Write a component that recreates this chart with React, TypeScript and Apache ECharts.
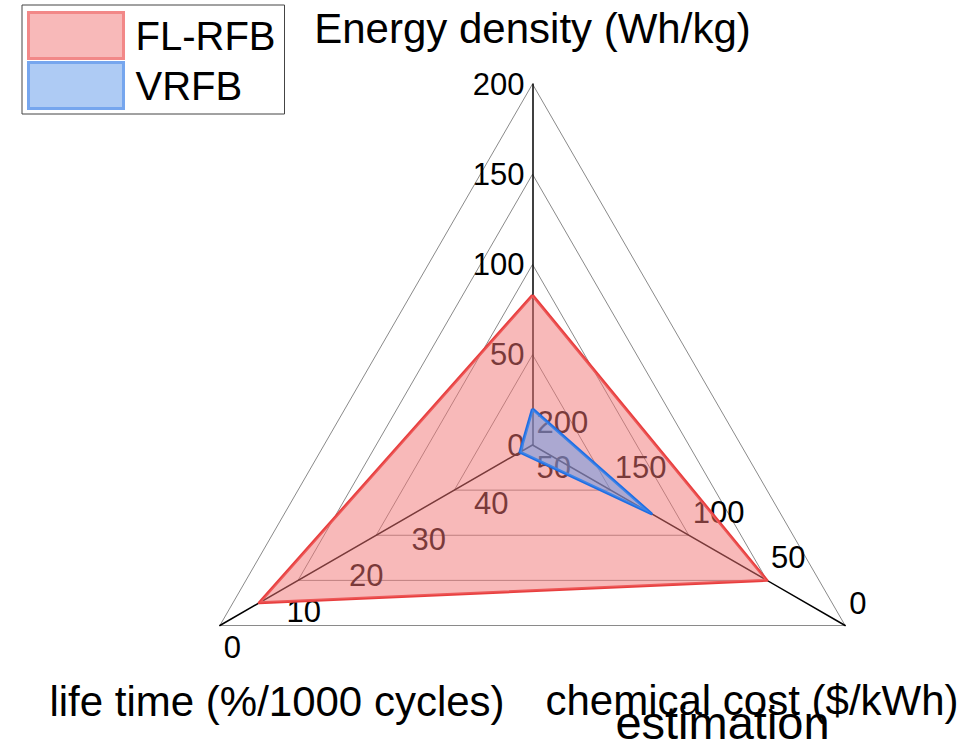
import React, { useEffect, useRef } from 'react';
import * as echarts from 'echarts';

// Axis titles (top, bottom-left, bottom-right)
const AXIS_NAMES = ['Energy density (Wh/kg)', 'life time (%/1000 cycles)', 'chemical cost ($/kWh)'];
const COST_NAME_NOTE = 'estimation';

// Axis ranges: energy grows outward, life time and cost grow toward the centre
const ENERGY_MAX = 200;
const LIFE_MAX = 50;
const COST_MAX = 200;

const SERIES_NAMES = ['FL-RFB', 'VRFB'];
const ENERGY = [83, 20]; // Wh/kg
const LIFE = [6.3, 48]; // %/1000 cycles
const COST = [50, 124]; // $/kWh

const FONT = '"Liberation Sans", Arial, Helvetica, sans-serif';
const LINE_COLORS = ['#e83e3e', '#1e6ee4'];
const FILL_COLORS = ['rgba(241,115,115,0.5)', 'rgba(93,151,233,0.5)'];
const LEGEND_FILL = ['#f8b9b9', '#aecbf4'];
const LEGEND_BORDER = ['#f28888', '#76a6ee'];

// Values as placed on the radar: reversed axes are measured from their outer end
const radarValues = (i: number) => [ENERGY[i], LIFE_MAX - LIFE[i], COST_MAX - COST[i]];

export default function App() {
  const ref = useRef<HTMLDivElement>(null);

  useEffect(() => {
    if (!ref.current) return;
    const chart = echarts.init(ref.current, undefined, { renderer: 'svg' });

    const common = {
      center: [532.5, 445],
      radius: 361,
      startAngle: 90,
      shape: 'polygon',
      splitArea: { show: false },
      axisName: { show: false },
    };
    const labelBase = { color: '#000', fontSize: 31, fontFamily: FONT, margin: 8 };
    const title = (text: string, x: number, y: number, size = 42) => ({
      type: 'text',
      x,
      y,
      style: { text, font: `${size}px ${FONT}`, fill: '#000', align: 'center', verticalAlign: 'middle' },
    });

    chart.setOption({
      animation: false,
      backgroundColor: '#fff',
      legend: {
        orient: 'vertical',
        left: 22,
        top: 5,
        padding: [6, 9, 4, 5],
        itemGap: 1,
        itemWidth: 95,
        itemHeight: 46,
        borderColor: '#444',
        borderWidth: 1,
        backgroundColor: '#fff',
        textStyle: { fontSize: 40, lineHeight: 46, color: '#000', fontFamily: FONT, padding: [0, 0, 0, 7] },
        data: SERIES_NAMES.map((n, i) => ({
          name: n,
          icon: 'rect',
          itemStyle: { color: LEGEND_FILL[i], borderColor: LEGEND_BORDER[i], borderWidth: 3 },
        })),
      },
      radar: [
        {
          ...common,
          splitNumber: 4,
          indicator: [
            { name: AXIS_NAMES[0], min: 0, max: ENERGY_MAX, axisLabel: { show: true } },
            { name: AXIS_NAMES[1], min: 0, max: LIFE_MAX, axisLabel: { show: false } },
            {
              name: AXIS_NAMES[2],
              min: 0,
              max: COST_MAX,
              axisLabel: { show: true, verticalAlign: 'bottom', formatter: (v: number) => String(COST_MAX - v) },
            },
          ],
          axisLine: { show: true, lineStyle: { color: '#000', width: 1.5 } },
          splitLine: { show: true, lineStyle: { color: '#8a8a8a', width: 1 } },
          axisLabel: { show: true, ...labelBase },
        },
        {
          ...common,
          splitNumber: 5,
          indicator: [
            { name: AXIS_NAMES[0], min: 0, max: ENERGY_MAX, axisLabel: { show: false } },
            {
              name: AXIS_NAMES[1],
              min: 0,
              max: LIFE_MAX,
              axisLabel: { show: true, verticalAlign: 'top', formatter: (v: number) => String(LIFE_MAX - v) },
            },
            { name: AXIS_NAMES[2], min: 0, max: COST_MAX, axisLabel: { show: false } },
          ],
          axisLine: { show: false },
          splitLine: { show: false },
          axisLabel: { show: true, ...labelBase },
        },
      ],
      series: [
        {
          type: 'radar',
          radarIndex: 0,
          symbol: 'none',
          data: SERIES_NAMES.map((n, i) => ({
            name: n,
            value: radarValues(i),
            lineStyle: { color: LINE_COLORS[i], width: 3 },
            areaStyle: { color: FILL_COLORS[i], opacity: 1 },
            itemStyle: { color: LINE_COLORS[i] },
          })),
        },
      ],
      graphic: [
        title(AXIS_NAMES[0], 532.5, 28),
        title(AXIS_NAMES[1], 277, 701.5),
        title(AXIS_NAMES[2], 752, 700.5),
        title(COST_NAME_NOTE, 722.5, 722, 47),
      ],
    });

    return () => chart.dispose();
  }, []);

  return <div ref={ref} style={{ position: 'fixed', left: 0, top: 0, width: 968, height: 744 }} />;
}
